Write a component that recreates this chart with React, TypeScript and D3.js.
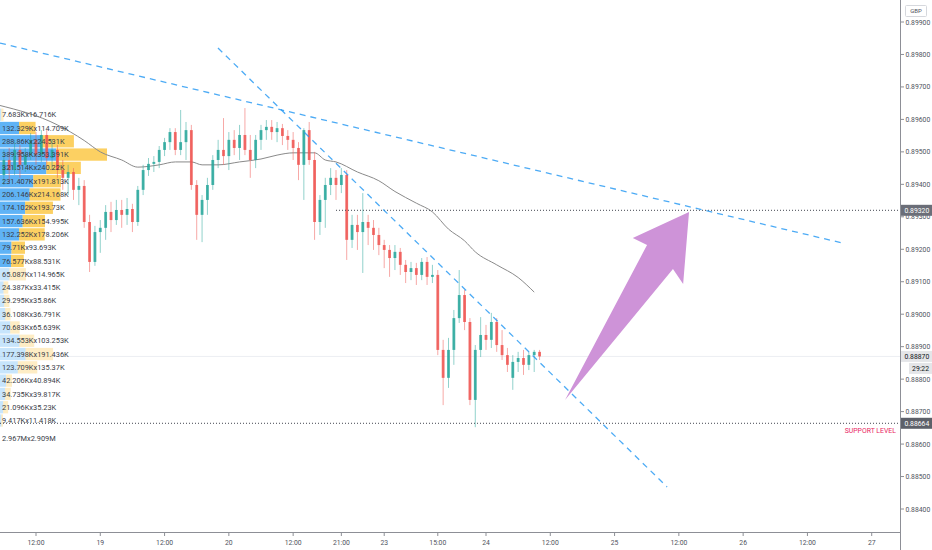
import React from 'react';
import * as d3 from 'd3';

// 1H bars, index 0 = 18th 12:00
const FIRST_BAR = -6;
const opens = [0.89429, 0.89475, 0.89444, 0.89506, 0.8946, 0.8949, 0.89537, 0.8949, 0.89552, 0.89481, 0.89506, 0.89444, 0.8942, 0.89438, 0.89383, 0.89395, 0.89284, 0.89161, 0.89253, 0.89266, 0.89315, 0.8929, 0.89321, 0.89306, 0.89324, 0.89284, 0.89383, 0.89444, 0.89463, 0.89469, 0.89506, 0.8953, 0.89561, 0.89506, 0.8953, 0.89567, 0.89398, 0.89306, 0.89352, 0.89398, 0.89475, 0.89506, 0.89487, 0.89537, 0.89512, 0.89552, 0.89506, 0.89475, 0.89537, 0.89567, 0.89577, 0.89561, 0.89573, 0.89549, 0.89537, 0.89512, 0.8946, 0.89567, 0.89475, 0.89284, 0.89352, 0.89398, 0.8942, 0.89398, 0.89429, 0.89229, 0.89275, 0.89253, 0.89284, 0.89266, 0.89244, 0.89213, 0.89198, 0.89173, 0.89192, 0.89152, 0.8913, 0.89142, 0.89121, 0.89161, 0.89115, 0.89121, 0.8889, 0.88804, 0.8889, 0.88988, 0.89059, 0.88976, 0.88736, 0.8889, 0.88936, 0.88921, 0.88976, 0.88905, 0.88874, 0.88804, 0.88853, 0.88865, 0.88844, 0.88874, 0.88884];
const highs = [0.89506, 0.89512, 0.89537, 0.89521, 0.89512, 0.89558, 0.89561, 0.89567, 0.89567, 0.89537, 0.89521, 0.89475, 0.8946, 0.8945, 0.8942, 0.89413, 0.89306, 0.89272, 0.8929, 0.89336, 0.89346, 0.89352, 0.89352, 0.89358, 0.8934, 0.89395, 0.8946, 0.89481, 0.89487, 0.89518, 0.89543, 0.89573, 0.89573, 0.89629, 0.89592, 0.89583, 0.89413, 0.89367, 0.8942, 0.8949, 0.89537, 0.89604, 0.89561, 0.89567, 0.89583, 0.89635, 0.89552, 0.89552, 0.89583, 0.89598, 0.89598, 0.89592, 0.89586, 0.89567, 0.89561, 0.8953, 0.89573, 0.89592, 0.895, 0.89367, 0.8942, 0.8945, 0.89444, 0.8945, 0.89444, 0.89306, 0.89306, 0.89373, 0.89306, 0.8929, 0.89266, 0.89229, 0.89213, 0.89213, 0.89204, 0.89167, 0.89161, 0.89158, 0.89173, 0.89176, 0.89152, 0.89136, 0.88921, 0.88927, 0.89013, 0.89136, 0.89075, 0.88988, 0.88905, 0.88991, 0.88967, 0.89004, 0.88988, 0.88951, 0.88896, 0.88874, 0.88884, 0.8889, 0.88884, 0.8889, 0.8889];
const lows = [0.89398, 0.89407, 0.89429, 0.8942, 0.89438, 0.89475, 0.8946, 0.89469, 0.8946, 0.89444, 0.8942, 0.89383, 0.89367, 0.89352, 0.89336, 0.89266, 0.8913, 0.89149, 0.89189, 0.89229, 0.89253, 0.89275, 0.89266, 0.89275, 0.89253, 0.89272, 0.89367, 0.89426, 0.89438, 0.8945, 0.89487, 0.89506, 0.8949, 0.8949, 0.89475, 0.89383, 0.89229, 0.89222, 0.89306, 0.89383, 0.8945, 0.8946, 0.89444, 0.8949, 0.89475, 0.8949, 0.8942, 0.8945, 0.89506, 0.89537, 0.89537, 0.8953, 0.89521, 0.89506, 0.89475, 0.89413, 0.89352, 0.8946, 0.89229, 0.89244, 0.89266, 0.89367, 0.89352, 0.89373, 0.89167, 0.89204, 0.89198, 0.89127, 0.89213, 0.89198, 0.89182, 0.89142, 0.89115, 0.89136, 0.89121, 0.89096, 0.89105, 0.8909, 0.89105, 0.8909, 0.89096, 0.88874, 0.8872, 0.88773, 0.88844, 0.88973, 0.88951, 0.8872, 0.88652, 0.88868, 0.8889, 0.88896, 0.88884, 0.88859, 0.88822, 0.88767, 0.88822, 0.88813, 0.88828, 0.88822, 0.88859];
const closes = [0.89475, 0.89444, 0.89506, 0.8946, 0.8949, 0.89537, 0.8949, 0.89552, 0.89481, 0.89506, 0.89444, 0.8942, 0.89438, 0.89383, 0.89395, 0.89284, 0.89161, 0.89253, 0.89266, 0.89315, 0.8929, 0.89321, 0.89306, 0.89324, 0.89284, 0.89383, 0.89444, 0.89463, 0.89469, 0.89506, 0.8953, 0.89561, 0.89506, 0.8953, 0.89567, 0.89398, 0.89306, 0.89352, 0.89398, 0.89475, 0.89506, 0.89487, 0.89537, 0.89512, 0.89552, 0.89506, 0.89475, 0.89537, 0.89567, 0.89577, 0.89561, 0.89573, 0.89549, 0.89537, 0.89512, 0.8946, 0.89567, 0.89475, 0.89284, 0.89352, 0.89398, 0.8942, 0.89398, 0.89429, 0.89229, 0.89275, 0.89253, 0.89284, 0.89266, 0.89244, 0.89213, 0.89198, 0.89173, 0.89192, 0.89152, 0.8913, 0.89142, 0.89121, 0.89161, 0.89115, 0.89121, 0.8889, 0.88804, 0.8889, 0.88988, 0.89059, 0.88976, 0.88736, 0.8889, 0.88936, 0.88921, 0.88976, 0.88905, 0.88874, 0.88844, 0.88853, 0.88865, 0.88844, 0.88874, 0.88884, 0.8887];

// moving average, read at selected bars
const maBars = [-7, 4, 9, 12, 16, 19, 23, 26, 29, 31, 34, 38, 42, 45, 48, 52, 54, 56, 60, 64, 67, 71, 74, 77, 80, 82, 86, 90, 93];
const maValues = [0.89644, 0.89583, 0.89535, 0.895, 0.89475, 0.89453, 0.8946, 0.89469, 0.89469, 0.8946, 0.8946, 0.89469, 0.89478, 0.8949, 0.89497, 0.89497, 0.89475, 0.89469, 0.89438, 0.89411, 0.89378, 0.89342, 0.89315, 0.89262, 0.89226, 0.89192, 0.89152, 0.89113, 0.89068];

// visible range volume profile (thousands), top row first
const profileUp = [7.683, 132.329, 288.86, 389.958, 321.514, 231.407, 206.146, 174.102, 157.636, 132.252, 79.71, 76.577, 65.087, 24.387, 29.295, 36.108, 70.683, 134.553, 177.398, 123.709, 42.206, 34.735, 21.096, 9.417];
const profileDown = [16.716, 114.709, 224.531, 353.391, 240.22, 191.813, 214.168, 193.73, 154.995, 178.206, 93.693, 88.531, 114.965, 33.415, 35.86, 36.791, 65.639, 103.253, 191.436, 135.37, 40.894, 39.817, 35.23, 11.418];

const timeTickBars = [0, 12, 24, 36, 48, 57, 65, 75, 84, 96, 108, 120, 132, 144, 156];
const timeTickLabels = ['12:00', '19', '12:00', '20', '12:00', '21:00', '23', '15:00', '24', '12:00', '25', '12:00', '26', '12:00', '27'];
const priceTicks = [0.899, 0.898, 0.897, 0.896, 0.895, 0.894, 0.893, 0.892, 0.891, 0.89, 0.889, 0.888, 0.887, 0.886, 0.885, 0.884];

// drawings
const trendUpperBars = [-6.72, 150.6];
const trendUpperPrices = [0.89835, 0.89219];
const trendSteepBars = [33.97, 117.8];
const trendSteepPrices = [0.8982, 0.88468];
const resistancePrice = 0.8932;
const resistanceFromBar = 56;
const supportPrice = 0.88664;
const lastPrice = 0.8887;
const countdown = '29:22';
const arrowBars = [98.75, 114.06, 111.4, 121.9, 120.8, 118.9];
const arrowPrices = [0.88736, 0.89213, 0.89235, 0.89315, 0.89093, 0.89139];

const W = 932;
const H = 550;
const PLOT_R = 900;
const PLOT_B = 532;
const FONT = 'Roboto, "Noto Sans", sans-serif';

const UP = '#26a69a';
const DOWN = '#ef5350';

function valueArea(totals: number[]) {
  const sum = d3.sum(totals);
  const poc = d3.maxIndex(totals);
  let lo = poc, hi = poc, acc = totals[poc];
  while (acc < sum * 0.7 && (lo > 0 || hi < totals.length - 1)) {
    const above = lo > 0 ? totals[lo - 1] : -1;
    const below = hi < totals.length - 1 ? totals[hi + 1] : -1;
    if (above >= below) { lo--; acc += above; } else { hi++; acc += below; }
  }
  return [lo, hi];
}

export default function App() {
  const x = d3.scaleLinear().domain([-6.72, 161.28]).range([0, PLOT_R]);
  const y = d3.scaleLinear()
    .domain([priceTicks[priceTicks.length - 1], priceTicks[0]])
    .range([509, 22]);

  const candles = opens.map((o, k) => ({
    bar: FIRST_BAR + k, o, h: highs[k], l: lows[k], c: closes[k],
  }));

  const ma = d3.line<number>()
    .x((_, k) => x(maBars[k]))
    .y(d => y(d))
    .curve(d3.curveMonotoneX)(maValues) || '';

  // profile rows span the visible high/low
  const top = d3.max(highs) as number;
  const bottom = d3.min(lows) as number;
  const rowH = (top - bottom) / profileUp.length;
  const totals = profileUp.map((u, k) => u + profileDown[k]);
  const w = d3.scaleLinear().domain([0, d3.max(totals) as number]).range([0, 107]);
  const [vaLo, vaHi] = valueArea(totals);
  const fmtM = (v: number) => (v / 1000).toFixed(3) + 'M';

  const arrow = d3.line<number>()
    .x((_, k) => x(arrowBars[k]))
    .y(d => y(d))(arrowPrices) + 'Z';

  const priceTag = (p: number, bg: string, fg: string) => (
    <g transform={`translate(${PLOT_R + 1},${y(p)})`}>
      <rect x={0} y={-5.5} width={31} height={11} fill={bg} />
      <text x={3.5} y={2.5} fontSize={6.8} fill={fg}>{p.toFixed(5)}</text>
    </g>
  );

  return (
    <div style={{ position: 'absolute', left: 0, top: 0 }}>
      <svg width={W} height={H} style={{ display: 'block', fontFamily: FONT }}>
        <rect width={W} height={H} fill="#fff" />
        <defs>
          <clipPath id="plot"><rect x={0} y={0} width={PLOT_R} height={PLOT_B} /></clipPath>
        </defs>

        <g clipPath="url(#plot)">
          <line x1={0} x2={PLOT_R} y1={y(lastPrice)} y2={y(lastPrice)} stroke="#eceef2" strokeWidth={1} />

          {/* volume profile */}
          {profileUp.map((u, k) => {
            const y0 = y(top - k * rowH) + 0.5;
            const y1 = y(top - (k + 1) * rowH) - 0.5;
            const inVA = k >= vaLo && k <= vaHi;
            return (
              <g key={'p' + k}>
                <rect x={0} y={y0} width={w(u)} height={y1 - y0}
                  fill={inVA ? 'rgba(33,150,243,0.72)' : 'rgba(33,150,243,0.25)'} />
                <rect x={w(u)} y={y0} width={w(profileDown[k])} height={y1 - y0}
                  fill={inVA ? 'rgba(251,192,45,0.75)' : 'rgba(251,192,45,0.28)'} />
              </g>
            );
          })}

          <path d={ma} fill="none" stroke="#8a8a8a" strokeWidth={1} />

          {candles.map(d => {
            const col = d.c >= d.o ? UP : DOWN;
            const cx = x(d.bar);
            const yt = y(Math.max(d.o, d.c));
            const yb = y(Math.min(d.o, d.c));
            return (
              <g key={'c' + d.bar}>
                <line x1={cx} x2={cx} y1={y(d.h)} y2={y(d.l)} stroke={col} strokeOpacity={0.5} strokeWidth={1} />
                <rect x={cx - 1.4} y={yt} width={2.8} height={Math.max(1, yb - yt)} fill={col} fillOpacity={0.85} />
              </g>
            );
          })}

          {profileUp.map((u, k) => (
            <text key={'pt' + k} x={2} y={y(top - (k + 0.5) * rowH) + 2.6} fontSize={7.4} fill="#3a3d47">
              {u + 'Kx' + profileDown[k] + 'K'}
            </text>
          ))}
          <text x={2} y={y(bottom) + 13.5} fontSize={7.4} fill="#3a3d47">
            {fmtM(d3.sum(profileUp)) + 'x' + fmtM(d3.sum(profileDown))}
          </text>

          <line x1={x(resistanceFromBar)} x2={PLOT_R} y1={y(resistancePrice)} y2={y(resistancePrice)}
            stroke="#434651" strokeWidth={1} strokeDasharray="1,2" />
          <line x1={0} x2={PLOT_R} y1={y(supportPrice)} y2={y(supportPrice)}
            stroke="#434651" strokeWidth={1} strokeDasharray="1,2" />
          <text x={896} y={y(supportPrice) + 10} textAnchor="end" fontSize={6.9} fill="#e91e63">SUPPORT LEVEL</text>

          <line x1={x(trendUpperBars[0])} y1={y(trendUpperPrices[0])} x2={x(trendUpperBars[1])} y2={y(trendUpperPrices[1])}
            stroke="#2196f3" strokeOpacity={0.8} strokeWidth={1.3} strokeDasharray="6,5" />
          <line x1={x(trendSteepBars[0])} y1={y(trendSteepPrices[0])} x2={x(trendSteepBars[1])} y2={y(trendSteepPrices[1])}
            stroke="#2196f3" strokeOpacity={0.8} strokeWidth={1.3} strokeDasharray="6,5" />

          <path d={arrow} fill="#ce93d8" />
        </g>

        {/* axes */}
        <line x1={0} x2={PLOT_R} y1={PLOT_B + 0.5} y2={PLOT_B + 0.5} stroke="#8d8f96" />
        <line x1={PLOT_R + 0.5} x2={PLOT_R + 0.5} y1={0} y2={H} stroke="#8d8f96" />

        {timeTickBars.map((b, k) => (
          <g key={'t' + k} transform={`translate(${x(b)},${PLOT_B})`}>
            <line y1={1} y2={4} stroke="#8d8f96" />
            <text y={12.5} textAnchor="middle" fontSize={6.8} fill="#50535e">{timeTickLabels[k]}</text>
          </g>
        ))}

        {priceTicks.map(p => (
          <g key={'y' + p} transform={`translate(${PLOT_R},${y(p)})`}>
            <line x1={1} x2={4} stroke="#8d8f96" />
            <text x={5.5} y={2.5} fontSize={6.8} fill="#50535e">{p.toFixed(5)}</text>
          </g>
        ))}

        {priceTag(resistancePrice, '#6b6e78', '#fff')}
        {priceTag(lastPrice, '#e4e5e8', '#131722')}
        <g transform={`translate(${PLOT_R + 1},${y(lastPrice) + 12})`}>
          <rect x={8} y={-5.5} width={23} height={11} fill="#e4e5e8" />
          <text x={28} y={2.5} textAnchor="end" fontSize={6.8} fill="#131722">{countdown}</text>
        </g>
        {priceTag(supportPrice, '#5d6069', '#fff')}

        <rect x={905.5} y={5.5} width={21} height={11} fill="#fff" stroke="#d6d8dd" rx={1} />
        <text x={916} y={13.3} textAnchor="middle" fontSize={6} fill="#50535e">GBP</text>
      </svg>
    </div>
  );
}
